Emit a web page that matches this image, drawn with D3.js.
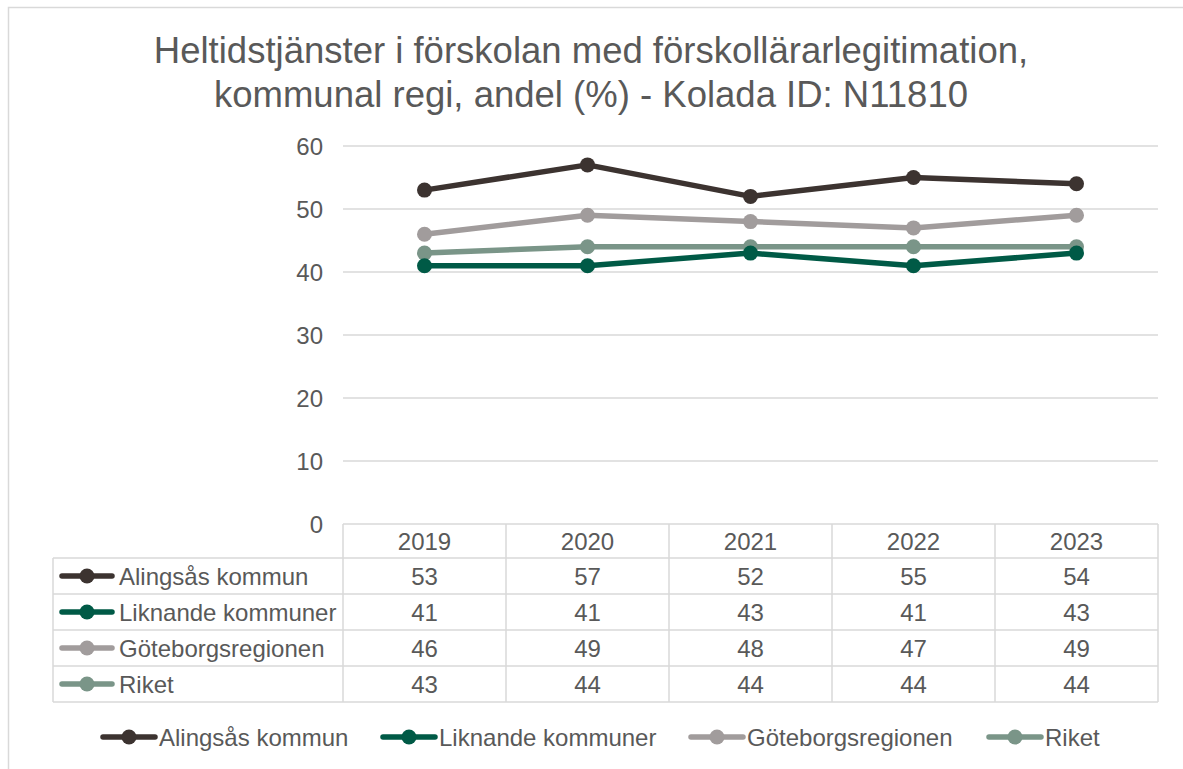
<!DOCTYPE html>
<html>
<head>
<meta charset="utf-8">
<script src="https://cdn.jsdelivr.net/npm/d3@7"></script>
<style>
  body { margin: 0; background: #fff; }
  svg text { font-family: "Liberation Sans", Arial, sans-serif; fill: #595959; }
</style>
</head>
<body>
<div id="chart"></div>
<script>
var years = ["2019", "2020", "2021", "2022", "2023"];
var seriesNames = ["Alingsås kommun", "Liknande kommuner", "Göteborgsregionen", "Riket"];
var alingsas = [53, 57, 52, 55, 54];
var liknande = [41, 41, 43, 41, 43];
var goteborg = [46, 49, 48, 47, 49];
var riket = [43, 44, 44, 44, 44];
var yTicks = [0, 10, 20, 30, 40, 50, 60];
var colors = ["#3c3330", "#005a46", "#a19c9c", "#7a9588"];

var seriesValues = [alingsas, liknande, goteborg, riket];
// draw order: grey & riket under, main series on top
var drawOrder = [2, 3, 1, 0];

var w = 1183, h = 769;
var plot = {left: 343, right: 1158, top: 146, bottom: 524};
var fs = "24px";

var svg = d3.select("#chart").append("svg")
  .attr("width", w).attr("height", h);

// chart frame (cut by the page edge right and bottom)
svg.append("rect")
  .attr("x", 8.5).attr("y", 7.5)
  .attr("width", w + 10).attr("height", h + 10)
  .attr("fill", "none").attr("stroke", "#d9d9d9").attr("stroke-width", 1.5);

// title
var title = svg.append("text")
  .attr("text-anchor", "middle")
  .style("font-size", "36.5px");
title.append("tspan").attr("x", 591).attr("y", 63)
  .text("Heltidstjänster i förskolan med förskollärarlegitimation,");
title.append("tspan").attr("x", 591).attr("y", 107)
  .text("kommunal regi, andel (%) - Kolada ID: N11810");

var xScale = d3.scaleBand().domain(years).range([plot.left, plot.right]);
var yScale = d3.scaleLinear().domain([0, 60]).range([plot.bottom, plot.top]);

// gridlines
svg.append("g").selectAll("line")
  .data(yTicks.filter(function(d) { return d > 0; }))
  .enter().append("line")
  .attr("x1", plot.left).attr("x2", plot.right)
  .attr("y1", function(d) { return yScale(d); })
  .attr("y2", function(d) { return yScale(d); })
  .attr("stroke", "#d9d9d9").attr("stroke-width", 1.5);

// y axis labels
var yAxis = d3.axisLeft(yScale).tickValues(yTicks).tickSize(0).tickPadding(20);
var yg = svg.append("g")
  .attr("transform", "translate(" + plot.left + ",0)")
  .call(yAxis);
yg.select(".domain").remove();
yg.selectAll("text")
  .attr("dy", "0.35em")
  .style("font-size", fs).style("fill", "#595959")
  .style("font-family", "Liberation Sans, Arial, sans-serif");

// lines
var line = d3.line()
  .x(function(d, i) { return xScale(years[i]) + xScale.bandwidth() / 2; })
  .y(function(d) { return yScale(d); });

drawOrder.forEach(function(s) {
  var g = svg.append("g");
  g.append("path")
    .attr("d", line(seriesValues[s]))
    .attr("fill", "none")
    .attr("stroke", colors[s])
    .attr("stroke-width", 5.5)
    .attr("stroke-linejoin", "round")
    .attr("stroke-linecap", "round");
  g.selectAll("circle").data(seriesValues[s]).enter().append("circle")
    .attr("cx", function(d, i) { return xScale(years[i]) + xScale.bandwidth() / 2; })
    .attr("cy", function(d) { return yScale(d); })
    .attr("r", 7.5)
    .attr("fill", colors[s]);
});

// data table
var tableLeft = 53;
var headerTop = plot.bottom, headerBottom = 558;
var rowH = 36;
var rowTops = seriesNames.map(function(d, i) { return headerBottom + i * rowH; });
var tableBottom = headerBottom + seriesNames.length * rowH;
var grid = svg.append("g").attr("stroke", "#d9d9d9").attr("stroke-width", 1.5);

// header top line and column separators
grid.append("line").attr("x1", plot.left).attr("x2", plot.right)
  .attr("y1", headerTop).attr("y2", headerTop);
var colEdges = years.map(function(y) { return xScale(y); }).concat([plot.right]);
colEdges.forEach(function(x) {
  grid.append("line").attr("x1", x).attr("x2", x)
    .attr("y1", headerTop).attr("y2", tableBottom);
});
grid.append("line").attr("x1", tableLeft).attr("x2", tableLeft)
  .attr("y1", headerBottom).attr("y2", tableBottom);
rowTops.concat([tableBottom]).forEach(function(y) {
  grid.append("line").attr("x1", tableLeft).attr("x2", plot.right)
    .attr("y1", y).attr("y2", y);
});

// header labels
svg.append("g").selectAll("text").data(years).enter().append("text")
  .attr("x", function(d) { return xScale(d) + xScale.bandwidth() / 2; })
  .attr("y", 550)
  .attr("text-anchor", "middle")
  .style("font-size", fs)
  .text(function(d) { return d; });

// rows
seriesNames.forEach(function(name, s) {
  var ty = rowTops[s] + rowH / 2;
  var g = svg.append("g");
  g.append("line").attr("x1", 62).attr("x2", 112).attr("y1", ty).attr("y2", ty)
    .attr("stroke", colors[s]).attr("stroke-width", 5.5).attr("stroke-linecap", "round");
  g.append("circle").attr("cx", 87).attr("cy", ty).attr("r", 7.5).attr("fill", colors[s]);
  g.append("text").attr("x", 119).attr("y", ty + 8.5)
    .style("font-size", fs).text(name);
  g.selectAll("text.v").data(seriesValues[s]).enter().append("text")
    .attr("class", "v")
    .attr("x", function(d, i) { return xScale(years[i]) + xScale.bandwidth() / 2; })
    .attr("y", ty + 8.5)
    .attr("text-anchor", "middle")
    .style("font-size", fs)
    .text(function(d) { return d; });
});

// bottom legend
var legendX = [103, 383, 691, 989];
var legendY = 737;
seriesNames.forEach(function(name, s) {
  var g = svg.append("g").attr("transform", "translate(" + legendX[s] + "," + legendY + ")");
  g.append("line").attr("x1", 0).attr("x2", 52).attr("y1", 0).attr("y2", 0)
    .attr("stroke", colors[s]).attr("stroke-width", 5.5).attr("stroke-linecap", "round");
  g.append("circle").attr("cx", 26).attr("cy", 0).attr("r", 7.5).attr("fill", colors[s]);
  g.append("text").attr("x", 56).attr("y", 8.5)
    .style("font-size", fs).text(name);
});
</script>
</body>
</html>
